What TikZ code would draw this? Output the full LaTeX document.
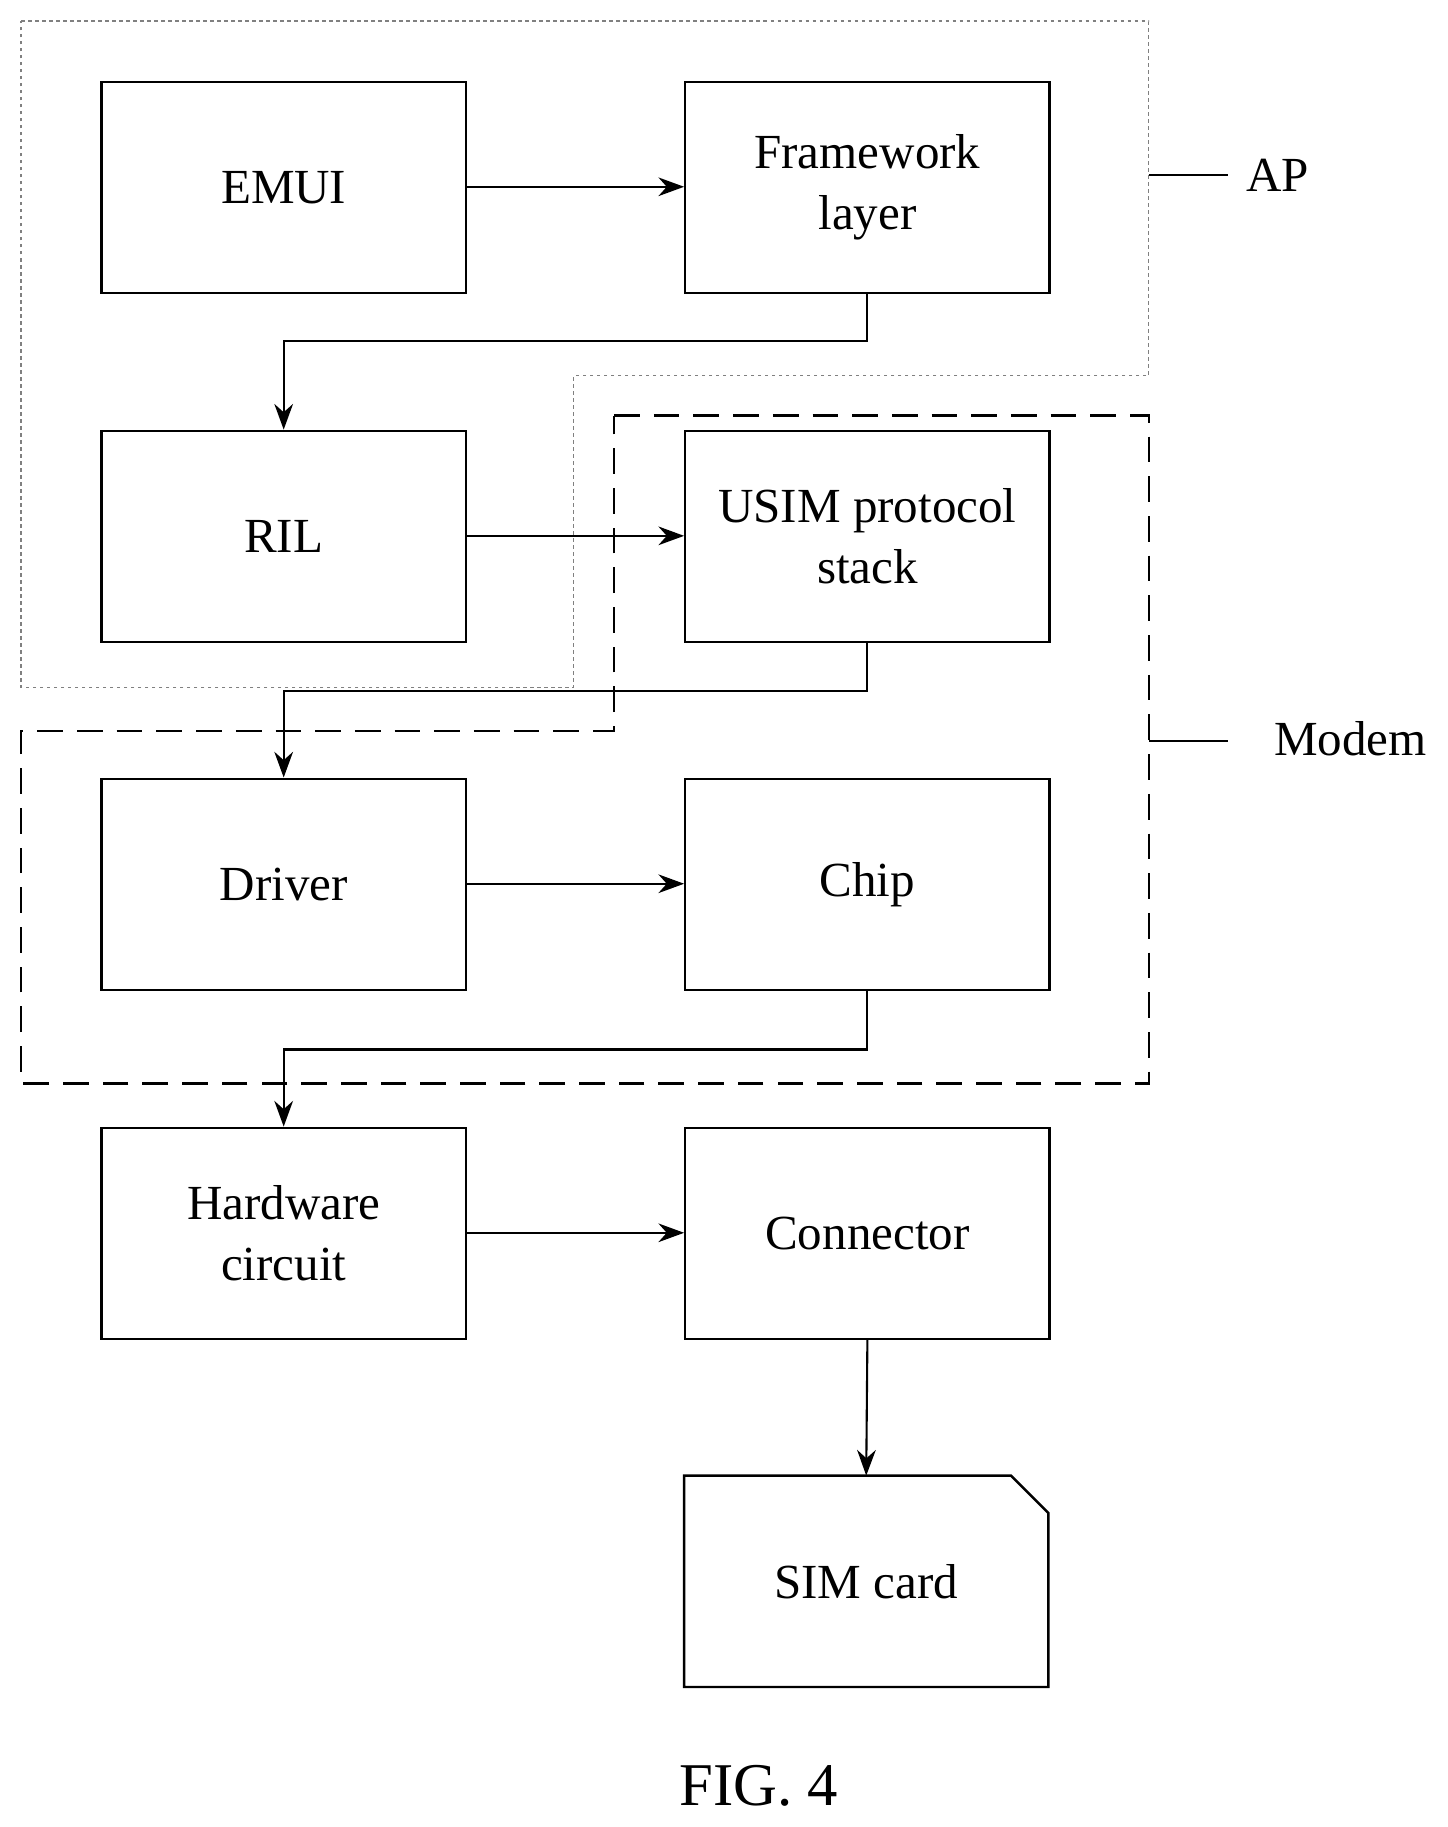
\documentclass[tikz,border=0pt]{standalone}
\usepackage{fontspec}
\setmainfont{Liberation Serif}
\usetikzlibrary{arrows.meta}
\begin{document}
\begin{tikzpicture}[x=1pt,y=-1pt,
 box/.style={draw,line width=2pt,minimum width=312pt,minimum height=181pt,anchor=north west,align=center,font=\fontsize{42}{52}\selectfont,inner sep=0pt},
 arr/.style={line width=1.8pt,-{Stealth[length=22pt,width=16pt]}},
 ap/.style={gray,line width=1pt,dash pattern=on 3pt off 3pt},
 modem/.style={line width=2pt,dash pattern=on 22pt off 12pt}]
\useasboundingbox (0,0) rectangle (1240,1565);
\node[box] (emui) at (86,69) {EMUI};
\node[box] (fw) at (586,69) {Framework\\layer};
\node[box] (ril) at (86,368) {RIL};
\node[box] (usim) at (586,368) {USIM protocol\\stack};
\node[box] (drv) at (86,666) {Driver};
\node[box] (chip) at (586,666) {Chip};
\node[box] (hw) at (86,965) {Hardware\\circuit};
\node[box] (con) at (586,965) {Connector};
\coordinate (sim) at (742,1264);
\draw[line width=2pt] (586,1264) -- (866,1264) -- (898,1296) -- (898,1445) -- (586,1445) -- cycle;
\node[font=\fontsize{42}{52}\selectfont] (simt) at (742,1355) {SIM card};
\draw[ap] (18,18) -- (984,18) -- (984,322) -- (491,322) -- (491,589) -- (18,589) -- cycle;
\draw[modem] (526,356) -- (984,356) -- (984,928) -- (18,928) -- (18,626) -- (526,626) -- cycle;
\coordinate (apl) at (984,150); \coordinate (apr) at (1052,150);
\draw[line width=1.6pt] (apl) -- (apr);
\node[font=\fontsize{42}{52}\selectfont,anchor=west] (ap) at (1064,150) {AP};
\coordinate (ml) at (984,635); \coordinate (mr) at (1052,635);
\draw[line width=1.6pt] (ml) -- (mr);
\node[font=\fontsize{42}{52}\selectfont,anchor=west] (md) at (1088,633) {Modem};
\draw[arr] (emui.east |- 0,160) -- (fw.west |- 0,160);
\draw[arr] (fw.south) -- ++(0,40) -| (ril.north);
\draw[arr] (ril.east |- 0,459) -- (usim.west |- 0,459);
\draw[arr] (usim.south) -- ++(0,41) -| (drv.north);
\draw[arr] (drv.east |- 0,757) -- (chip.west |- 0,757);
\draw[arr] (chip.south) -- ++(0,50) -| (hw.north);
\draw[arr] (hw.east |- 0,1056) -- (con.west |- 0,1056);
\draw[arr] (con.south) -- (sim);
\node[font=\fontsize{52}{62}\selectfont] (fig) at (650,1530) {FIG. 4};
\end{tikzpicture}
\end{document}
